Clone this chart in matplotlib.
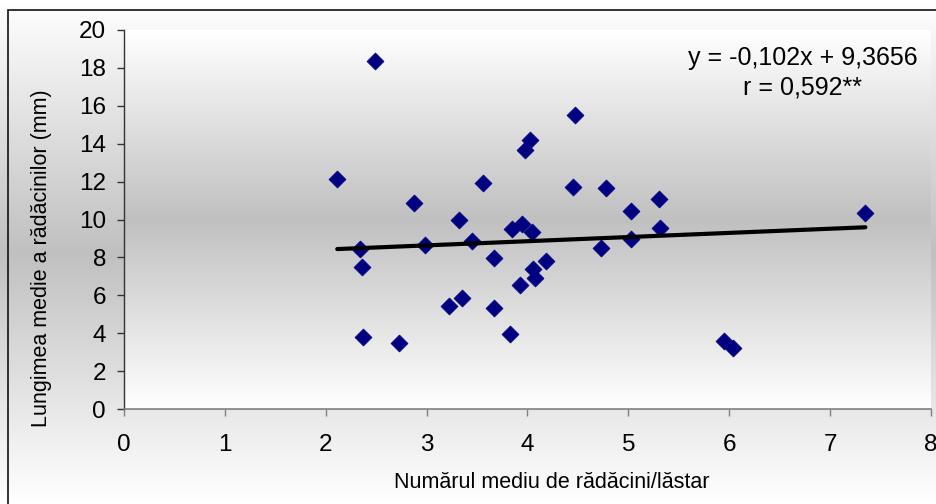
import numpy as np
from matplotlib import pyplot as plt
from matplotlib.patches import Rectangle

# mean number of roots per shoot vs. mean root length (mm)
x_vals = [2.485, 4.47, 4.02, 3.98, 2.114, 3.555, 4.447, 4.78, 2.874,
          3.317, 3.845, 3.95, 4.047, 2.339, 2.986, 3.452, 4.724, 2.356,
          3.664, 4.182, 4.053, 4.073, 3.925, 3.353, 3.224, 3.664, 3.822,
          2.366, 2.725, 5.305, 5.025, 5.312, 5.025, 7.35, 5.946, 6.04]
y_vals = [18.36, 15.50, 14.19, 13.67, 12.12, 11.93, 11.73, 11.68, 10.89,
          9.97, 9.48, 9.75, 9.32, 8.43, 8.65, 8.88, 8.50, 7.51,
          7.98, 7.83, 7.37, 6.93, 6.54, 5.87, 5.45, 5.31, 3.97,
          3.78, 3.48, 11.07, 10.47, 9.53, 8.99, 10.36, 3.60, 3.24]

# trend line as drawn in the original (from min x to max x)
trend_y = [8.44, 9.59]

x_ticks = list(range(0, 9))
y_ticks = list(range(0, 21, 2))

eq_text = "y = -0,102x + 9,3656"
r_text = "r = 0,592**"
x_title = "Numărul mediu de rădăcini/lăstar"
y_title = "Lungimea medie a rădăcinilor (mm)"

W, H = 937, 504
plt.rcParams['font.family'] = ['Liberation Sans', 'DejaVu Sans']


def gray_gradient(n=256, peak=192):
    # white at both ends, gray in the middle
    t = np.abs(np.linspace(-1, 1, n))
    v = (peak + (255 - peak) * t) / 255.0
    return np.dstack([v, v, v]).reshape(n, 1, 3)


fig = plt.figure(figsize=(W / 100, H / 100), dpi=100)

# figure background gradient
bg = fig.add_axes([0, 0, 1, 1], zorder=-2)
bg.imshow(gray_gradient(), aspect='auto', extent=[0, 1, 0, 1], interpolation='bilinear')
bg.set_xlim(0, 1)
bg.set_ylim(0, 1)
bg.axis('off')

# chart border (left and top visible, rest cropped away)
fig.patches.append(Rectangle((8 / W, -0.1), 1.2, 1.1 - 10 / H, transform=fig.transFigure,
                             fill=False, edgecolor='#111111', linewidth=1.2))

ax = fig.add_axes([124 / W, 1 - 409 / H, (931 - 124) / W, (409 - 30) / H])
ax.patch.set_visible(False)
ax.imshow(gray_gradient(), aspect='auto', extent=[0, 1, 0, 1], transform=ax.transAxes,
          interpolation='bilinear', zorder=0)

ax.scatter(x_vals, y_vals, marker='D', s=75, color='#000080', edgecolor='#000080',
           linewidth=0.5, zorder=3, clip_on=False)
trend_x = [min(x_vals), max(x_vals)]
ax.plot(trend_x, trend_y, color='black', linewidth=3, solid_capstyle='round', zorder=4)

ax.set_xlim(0, 8)
ax.set_ylim(0, 20)
ax.set_xticks(x_ticks)
ax.set_yticks(y_ticks)
ax.tick_params(axis='y', direction='out', length=5, width=1, color='#333333',
               labelsize=17.5, pad=8)
ax.tick_params(axis='x', direction='out', length=5, width=1, color='#808080',
               labelsize=17.5, pad=13)

for s in ['top', 'right']:
    ax.spines[s].set_visible(False)
ax.spines['left'].set_color('#333333')
ax.spines['bottom'].set_color('#808080')
ax.spines['left'].set_linewidth(1)
ax.spines['bottom'].set_linewidth(1.2)

fig.text(803 / W, 1 - 58 / H, eq_text, ha='center', va='center', fontsize=18)
fig.text(803 / W, 1 - 88 / H, r_text, ha='center', va='center', fontsize=18)

fig.text(552 / W, 1 - 483 / H, x_title, ha='center', va='center', fontsize=15.5)
fig.text(42 / W, 1 - 258 / H, y_title, ha='center', va='center', rotation=90, fontsize=15.5)

fig.savefig('out.png', dpi=100)
